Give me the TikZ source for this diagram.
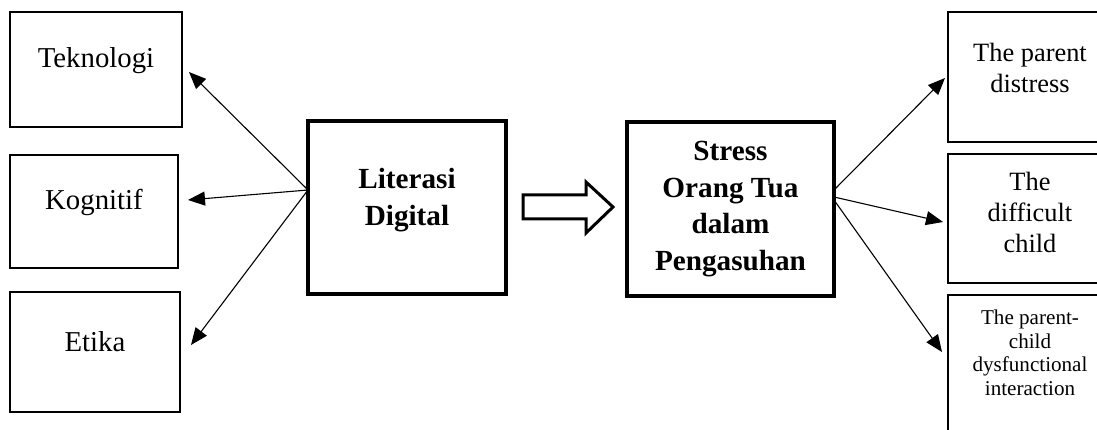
\documentclass[tikz,border=0pt]{standalone}
\usepackage{fontspec}
\setmainfont{Liberation Serif}
\usetikzlibrary{arrows.meta}
\begin{document}
\begin{tikzpicture}[x=1pt,y=-1pt,
  thinbox/.style={draw, line width=1.1pt, anchor=north west, inner sep=0pt, outer sep=0pt},
  thickbox/.style={draw, line width=3.3pt, anchor=north west, inner sep=0pt, outer sep=0pt},
  leftlbl/.style={anchor=base, inner sep=0pt, font=\fontsize{28.8}{34}\selectfont},
  boldlbl/.style={align=center, inner sep=0pt, font=\fontsize{29.2}{36.5}\selectfont\bfseries},
  rightlbl/.style={align=center, inner sep=0pt, font=\fontsize{26.4}{31}\selectfont},
  smalllbl/.style={align=center, inner sep=0pt, font=\fontsize{21.1}{23.5}\selectfont},
  conn/.style={line width=1.1pt, -{Triangle[length=17pt,width=14pt]}},
  hollow/.style={draw, line width=3pt, miter limit=10},
]
\useasboundingbox (0,0) rectangle (1097,430);
\clip (0,0) rectangle (1097,430);

% left boxes
\node[thinbox, minimum width=172pt, minimum height=115pt] (tek) at (10,12) {};
\node[thinbox, minimum width=168pt, minimum height=113pt] (kog) at (10,155) {};
\node[thinbox, minimum width=170pt, minimum height=120pt] (eti) at (10,292) {};
\node[leftlbl] (tekt) at (96,68) {Teknologi};
\node[leftlbl] (kogt) at (94,210) {Kognitif};
\node[leftlbl] (etit) at (95,351) {Etika};

% central boxes
\node[thickbox, minimum width=198pt, minimum height=173pt] (lit) at (308,121) {};
\node[boldlbl] (litt) at (407,200) {Literasi\\Digital};
\node[thickbox, minimum width=207pt, minimum height=174pt] (str) at (627,122) {};
\node[boldlbl] (strt) at (730.5,209) {Stress\\Orang Tua\\dalam\\Pengasuhan};

% right boxes (cut by the right edge)
\node[thinbox, minimum width=170pt, minimum height=130pt] (par) at (948,12) {};
\node[thinbox, minimum width=170pt, minimum height=129pt] (dif) at (948,154) {};
\node[thinbox, minimum width=170pt, minimum height=160pt] (dys) at (948,295) {};
\node[rightlbl] (part) at (1030,68) {The parent\\distress};
\node[rightlbl] (dift) at (1030,212.5) {The\\difficult\\child};
\node[smalllbl] (dyst) at (1030,353) {The parent-\\child\\dysfunctional\\interaction};

% arrow tips (free ends)
\coordinate (t1) at (189,72);
\coordinate (t2) at (188,200);
\coordinate (t3) at (191,345);
\coordinate (r1) at (945,78);
\coordinate (r2) at (943,222);
\coordinate (r3) at (942,352);

\draw[conn] ([yshift=17.5pt]lit.west) -- (t1);
\draw[conn] ([yshift=17.5pt]lit.west) -- (t2);
\draw[conn] ([yshift=17.5pt]lit.west) -- (t3);
\draw[conn] ([yshift=19pt]str.east) -- (r1);
\draw[conn] ([yshift=12pt]str.east) -- (r2);
\draw[conn] ([yshift=9pt]str.east) -- (r3);

% hollow block arrow
\draw[hollow] (523,195) -- (586,195) -- (586,182) -- (613,207) -- (586,233) -- (586,219) -- (523,219) -- cycle;
\end{tikzpicture}
\end{document}
